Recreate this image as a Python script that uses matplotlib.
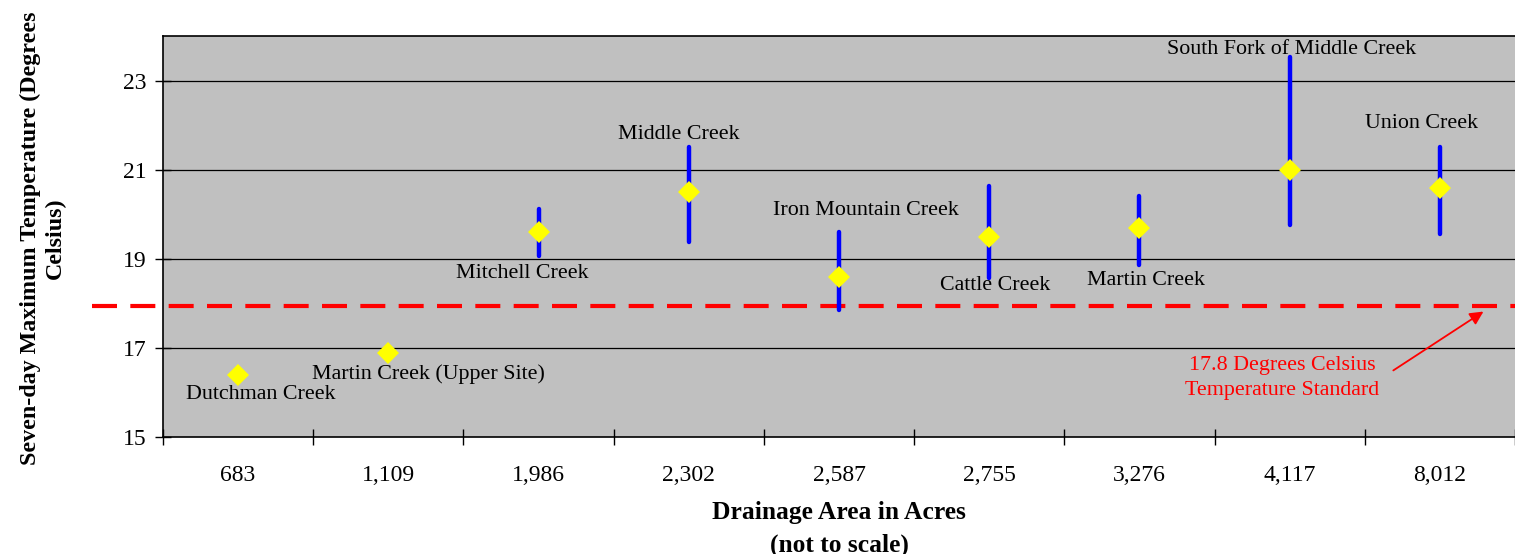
import numpy as np
import matplotlib
matplotlib.use("Agg")
import matplotlib.pyplot as plt

plt.rcParams['font.family'] = ['Liberation Serif', 'DejaVu Serif']

# Drainage area (tick labels), site names and 7-day max temperatures
areas = ["683", "1,109", "1,986", "2,302", "2,587", "2,755", "3,276", "4,117", "8,012"]
sites = ["Dutchman Creek", "Martin Creek (Upper Site)", "Mitchell Creek", "Middle Creek",
         "Iron Mountain Creek", "Cattle Creek", "Martin Creek",
         "South Fork of Middle Creek", "Union Creek"]
temp_mid = [16.4, 16.9, 19.6, 20.5, 18.6, 19.5, 19.7, 21.0, 20.6]
temp_low = [np.nan, np.nan, 19.07, 19.37, 17.86, 18.57, 18.87, 19.77, 19.57]
temp_high = [np.nan, np.nan, 20.12, 21.52, 19.61, 20.63, 20.42, 23.52, 21.52]

# where the site names sit (x in category units, y in degrees)
label_x = [0.15, 1.27, 1.89, 2.93, 4.18, 5.04, 6.04, 7.01, 7.88]
label_y = [15.95, 16.42, 18.67, 21.78, 20.09, 18.40, 18.51, 23.70, 22.04]

standard_line = 17.95

fig = plt.figure(figsize=(15.15, 5.54), dpi=100)
ax = fig.add_axes([163/1515, 1 - 437.3/554, 1352/1515, (437.3 - 36)/554])
ax.set_facecolor("#C0C0C0")

x = np.arange(len(areas))
ax.set_xlim(-0.5, len(areas) - 0.5)
ax.set_ylim(15, 24)

# horizontal grid
for g in [17, 19, 21, 23]:
    ax.axhline(g, color="black", lw=0.9, zorder=1)

# range bars
for i in range(len(areas)):
    if not np.isnan(temp_low[i]):
        ax.plot([x[i], x[i]], [temp_low[i], temp_high[i]], color="#0000FF", lw=3.2,
                solid_capstyle="round", zorder=3)

ax.plot(x, temp_mid, linestyle="none", marker="D", ms=11, color="#FFFF00",
        markeredgewidth=0, zorder=4)

for i, name in enumerate(sites):
    ax.text(label_x[i], label_y[i], name, ha="center", va="center", fontsize=15.8, zorder=5)

# standard line (starts a bit left of the axis)
ax.plot([-0.0525, 1.0], [standard_line, standard_line], transform=ax.get_yaxis_transform(),
        color="#FF0000", lw=3, dashes=(6, 3.2), clip_on=False, zorder=2)
ax.text(6.95, 16.33, "17.8 Degrees Celsius\nTemperature Standard", color="#FF0000",
        ha="center", va="center", fontsize=15.8, linespacing=1.45, zorder=5)
ax.annotate("", xy=(8.29, 17.82), xytext=(7.69, 16.50),
            arrowprops=dict(arrowstyle="-|>", color="#FF0000", lw=1.3, mutation_scale=20,
                            shrinkA=0, shrinkB=0), zorder=5)

# ticks: x labels at centers, tick marks between categories
ax.set_xticks(x)
ax.set_xticklabels(areas, fontsize=17)
ax.set_xticks(np.arange(-0.5, len(areas) - 0.5 + 0.01, 1), minor=True)
ax.tick_params(axis="x", which="major", length=0, pad=20)
ax.tick_params(axis="x", which="minor", direction="inout", length=12, width=1)
ax.set_yticks([15, 17, 19, 21, 23])
ax.tick_params(axis="y", direction="inout", length=12, width=1, labelsize=17, pad=6)

for s in ["left", "bottom", "top"]:
    ax.spines[s].set_linewidth(1.2)
ax.spines["right"].set_visible(False)

fig.text(43/1515, 1 - 238/554, "Seven-day Maximum Temperature (Degrees\nCelsius)",
         rotation=90, ha="center", va="center", multialignment="center",
         fontsize=17.3, fontweight="bold", linespacing=1.2)
fig.text(839/1515, 1 - 529/554, "Drainage Area in Acres\n(not to scale)",
         ha="center", va="center", multialignment="center",
         fontsize=18.4, fontweight="bold", linespacing=1.53)

fig.savefig("out.png", dpi=100)
